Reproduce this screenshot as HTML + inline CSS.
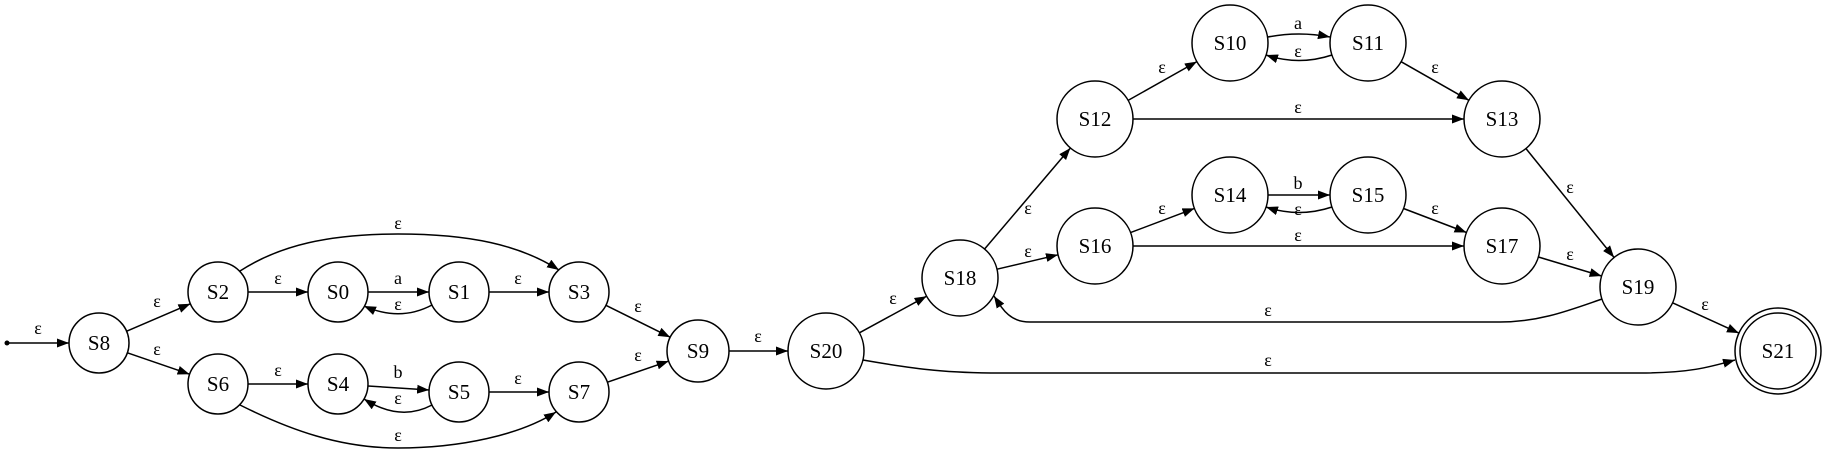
<!DOCTYPE html>
<html><head><meta charset="utf-8">
<style>
html,body{margin:0;padding:0;background:#fff;}
svg{display:block;}
text{font-family:"Liberation Serif",serif;fill:#000;}
.n{font-size:21px;}
.e{font-size:18px;}
</style></head>
<body>
<svg id="g" width="1827" height="454" viewBox="0 0 1827 454" xmlns="http://www.w3.org/2000/svg">
<defs>
<marker id="a" markerUnits="userSpaceOnUse" markerWidth="13" markerHeight="10" refX="12" refY="4.5" orient="auto">
<path d="M0,0 L12,4.5 L0,9 z" fill="#000"/>
</marker>
</defs>
</svg>
<script>
var N={S8:[99,343,30],S2:[218,292,30],S6:[218,384,30],S0:[338,292,30],S4:[338,384,30],
S1:[459,292,30],S5:[459,392,30],S3:[579,292,30],S7:[579,392,30],S9:[698,351,31],
S20:[826,351,38],S18:[960,278,38],S12:[1095,119,38],S16:[1095,246,38],
S10:[1230,43,38],S11:[1368,43,38],S14:[1230,195,38],S15:[1368,195,38],
S13:[1502,119,38],S17:[1502,246,38],S19:[1638,287,38],S21:[1778,351,43]};
var s='';
function P(d){s+='<path d="'+d+'" fill="none" stroke="#000" stroke-width="1.5" marker-end="url(#a)"/>';}
function L(t,x,y){s+='<text class="e" x="'+x+'" y="'+y+'" text-anchor="middle">'+t+'</text>';}
function S(a,b,t,lx,ly){var A=N[a],B=N[b];var dx=B[0]-A[0],dy=B[1]-A[1],l=Math.hypot(dx,dy);dx/=l;dy/=l;
P('M'+(A[0]+A[2]*dx).toFixed(1)+','+(A[1]+A[2]*dy).toFixed(1)+' L'+(B[0]-B[2]*dx).toFixed(1)+','+(B[1]-B[2]*dy).toFixed(1));L(t,lx,ly);}
s+='<circle cx="7" cy="343" r="2.5" fill="#000"/>';
P('M7,343 L69,343');L('ε',38,334);
S('S8','S2','ε',157,307);S('S8','S6','ε',157,355);
S('S2','S0','ε',278,284);S('S0','S1','a',398,284);
P('M432,305 Q400,322 364,306');L('ε',398,310);
S('S1','S3','ε',518,284);
P('M240,271 C280,245 330,234 398,234 C470,234 520,245 559,270');L('ε',398,229);
S('S6','S4','ε',278,376);S('S4','S5','b',398,378);
P('M432,405 Q400,422 364,399');L('ε',398,404);
S('S5','S7','ε',518,384);
P('M240,405 C290,430 340,448 398,448 C460,448 520,435 556,412');L('ε',398,441);
S('S3','S9','ε',638,312);S('S7','S9','ε',638,361);S('S9','S20','ε',758,342);
S('S20','S18','ε',893,304);
P('M863,360 C920,370 950,373 1000,373 L1640,373 C1690,373 1710,367 1735,360');L('ε',1268,366);
P('M1602,299 C1570,310 1540,322 1500,322 L1030,322 C1010,322 1003,310 994,296');L('ε',1268,316);
S('S18','S12','ε',1028,214);S('S18','S16','ε',1028,257);
S('S12','S10','ε',1162,73);
P('M1268,37 Q1299,31 1330,37');L('a',1298,29);
P('M1332,55 Q1299,66 1266,55');L('ε',1298,57);
S('S11','S13','ε',1435,73);
S('S12','S13','ε',1298,113);
S('S16','S14','ε',1162,214);S('S14','S15','b',1298,189);
P('M1332,207 Q1299,218 1266,207');L('ε',1298,215);
S('S15','S17','ε',1435,214);
S('S16','S17','ε',1298,241);
S('S13','S19','ε',1570,193);S('S17','S19','ε',1570,260);S('S19','S21','ε',1705,310);
for(var k in N){var n=N[k];
s+='<circle cx="'+n[0]+'" cy="'+n[1]+'" r="'+n[2]+'" fill="#fff" stroke="#000" stroke-width="1.5"/>';
if(k=='S21')s+='<circle cx="'+n[0]+'" cy="'+n[1]+'" r="38" fill="none" stroke="#000" stroke-width="1.5"/>';
s+='<text class="n" x="'+n[0]+'" y="'+(n[1]+7)+'" text-anchor="middle">'+k+'</text>';}
document.getElementById('g').insertAdjacentHTML('beforeend',s);
</script>
</body></html>
